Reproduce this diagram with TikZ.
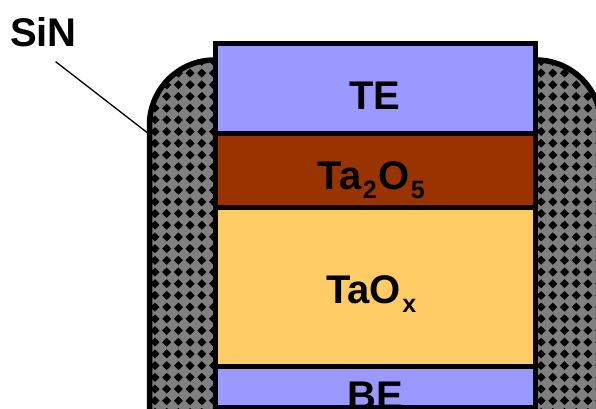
\documentclass[tikz,border=0pt]{standalone}
\usepackage{fontspec}
\setmainfont{Liberation Sans}
\usepackage{tikz}
\definecolor{LayerBlue}{HTML}{9999FF}
\definecolor{LayerBrown}{HTML}{993300}
\definecolor{LayerGold}{HTML}{FFCC66}
\definecolor{SiNGray}{HTML}{808080}
\newcommand{\layersub}[1]{\kern1.5pt\raisebox{-0.23em}{\fontsize{25}{25}\selectfont #1}\kern1.5pt}

\begin{document}
\begin{tikzpicture}[x=1pt,y=-1pt,
    layerbox/.style={draw=black,line width=5.5pt,minimum width=320pt,inner sep=0pt,outer sep=0pt,anchor=north west},
    layerlabel/.style={font=\fontsize{40}{40}\bfseries\selectfont,inner sep=0pt,anchor=base}]
  \path[use as bounding box,clip] (0,0) rectangle (596,408);
  % SiN spacer
  \begin{scope}
    \clip (149.5,420) -- (149.5,125) arc (180:270:65) -- (536,60) arc (270:360:65) -- (601.5,420) -- cycle;
    \fill[SiNGray] (140,50) rectangle (610,420);
    \foreach \i in {-2,...,38} \foreach \j in {-9,...,25} {
      \fill (166.7+11.7*\i,155+11.7*\j) circle (3.1);
      \fill (162.2+11.7*\i,155+11.7*\j) -- (166.7+11.7*\i,150.5+11.7*\j) -- (171.2+11.7*\i,155+11.7*\j) -- (166.7+11.7*\i,159.5+11.7*\j) -- cycle;
    }
  \end{scope}
  \draw[line width=5.5pt] (149.5,420) -- (149.5,125) arc (180:270:65) -- (536,60) arc (270:360:65) -- (601.5,420);
  % layer stack
  \node[layerbox,fill=LayerBlue,minimum height=90pt] (te) at (215.5,43.5) {};
  \node[layerbox,fill=LayerBrown,minimum height=74pt] (ta2o5) at (215.5,133.5) {};
  \node[layerbox,fill=LayerGold,minimum height=159pt] (taox) at (215.5,207.5) {};
  \node[layerbox,fill=LayerBlue,minimum height=41pt] (be) at (215.5,366.5) {};
  \node[layerlabel] (telabel) at (375,109) {TE};
  \node[layerlabel] (ta2o5label) at (372,189) {Ta\layersub{2}O\layersub{5}};
  \node[layerlabel] (taoxlabel) at (372,303) {TaO\layersub{x}};
  \node[layerlabel] (belabel) at (375,409) {BE};
  % leader
  \node[layerlabel,inner ysep=15pt] (sinlabel) at (43.5,46) {SiN};
  \coordinate (sinend) at (149,134);
  \draw[line width=1.3pt] (sinlabel.-68) -- (sinend);
\end{tikzpicture}
\end{document}
